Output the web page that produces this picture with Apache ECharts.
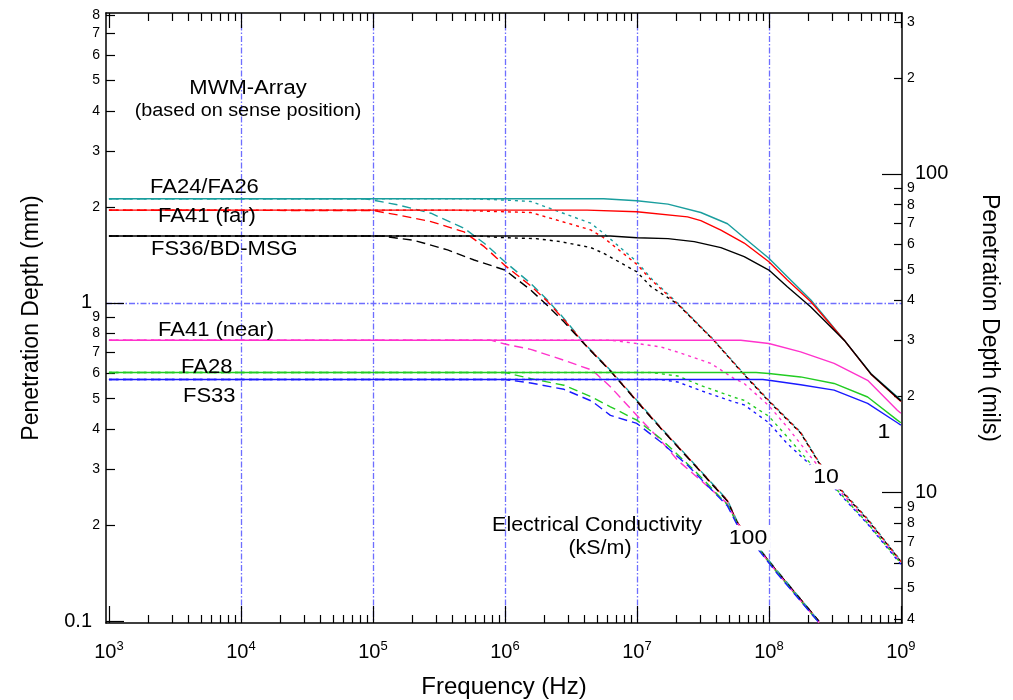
<!DOCTYPE html>
<html>
<head>
<meta charset="utf-8">
<script src="https://cdn.jsdelivr.net/npm/echarts@6/dist/echarts.min.js"></script>
<style>
    html, body {margin: 0; padding: 0; background: #fff;}
    #main {width: 1013px; height: 700px;}
</style>
</head>
<body>
<div id="main"></div>
<script>
// penetration depth (mm) vs frequency (Hz)
// suffix = conductivity in kS/m
let fa24_1 = [[1e3,2.12],[5.6e6,2.12],[1e7,2.09],[1.72e7,2.04],[3.05e7,1.92],[4.86e7,1.77],[6.5e7,1.60],[1e8,1.38],[1.38e8,1.207],[2.08e8,1.02],[3.72e8,0.763],[5.93e8,0.60],[1e9,0.495]];
let fa24_10 = [[1e3,2.12],[5.6e5,2.12],[1e6,2.10],[1.57e6,2.08],[4.47e6,1.777],[5.6e6,1.652],[1e7,1.345],[1.28e7,1.193],[2.04e7,0.996],[3.85e7,0.763],[6.13e7,0.614],[1e8,0.494],[1.74e8,0.393],[2.4e8,0.316],[3.3e8,0.267],[5.6e8,0.21],[1e9,0.155]];
let fa24_100 = [[1e3,2.12],[8.5e4,2.12],[1e5,2.10],[1.54e5,2.03],[2.75e5,1.91],[4.9e5,1.714],[6.97e5,1.538],[1e6,1.345],[1.57e6,1.15],[2.1e6,1.02],[2.8e6,0.893],[4e6,0.745],[4.75e6,0.693],[6.3e6,0.614],[1e7,0.494],[1.51e7,0.407],[2.72e7,0.312],[4.86e7,0.24],[5.78e7,0.205],[8.7e7,0.167],[1.16e8,0.144],[2.4e8,0.1]];

let fa41f_1 = [[1e3,1.953],[4.2e6,1.953],[1e7,1.93],[2.42e7,1.86],[3.05e7,1.81],[4.33e7,1.69],[6.5e7,1.54],[1e8,1.345],[1.38e8,1.178],[2.08e8,1.007],[3.72e8,0.763],[5.93e8,0.597],[1e9,0.49]];
let fa41f_10 = [[1e3,1.953],[4.2e5,1.953],[1e6,1.93],[1.57e6,1.92],[4.47e6,1.693],[5.6e6,1.60],[1e7,1.32],[1.28e7,1.18],[2.04e7,0.99],[3.85e7,0.76],[6.13e7,0.612],[1e8,0.492],[1.74e8,0.391],[2.4e8,0.315],[3.3e8,0.266],[5.6e8,0.209],[1e9,0.154]];
let fa41f_100 = [[1e3,1.953],[1e5,1.947],[1.54e5,1.887],[2.75e5,1.798],[4.9e5,1.67],[6.97e5,1.5],[1e6,1.31],[1.57e6,1.13],[2.1e6,1.01],[2.8e6,0.885],[4e6,0.743],[4.75e6,0.69],[6.3e6,0.612],[1e7,0.492],[1.51e7,0.405],[2.72e7,0.311],[4.86e7,0.239],[5.78e7,0.204],[8.7e7,0.166],[1.16e8,0.143],[2.4e8,0.1]];

let fs36_1 = [[1e3,1.62],[6.3e6,1.62],[1e7,1.60],[1.72e7,1.59],[2.72e7,1.555],[4.33e7,1.49],[6.5e7,1.395],[1e8,1.267],[1.38e8,1.123],[2.08e8,0.97],[3.72e8,0.763],[5.93e8,0.598],[1e9,0.492]];
let fs36_10 = [[1e3,1.62],[6.3e5,1.62],[1e6,1.60],[1.72e6,1.59],[2.65e6,1.555],[4.47e6,1.49],[5.6e6,1.43],[1e7,1.25],[1.28e7,1.123],[2.04e7,0.99],[3.85e7,0.76],[6.13e7,0.61],[1e8,0.49],[1.74e8,0.39],[2.4e8,0.314],[3.3e8,0.265],[5.6e8,0.208],[1e9,0.154]];
let fs36_100 = [[1e3,1.62],[1.15e5,1.62],[2.05e5,1.57],[3.68e5,1.465],[5.85e5,1.362],[1e6,1.267],[1.57e6,1.096],[2.1e6,0.98],[2.8e6,0.871],[4e6,0.742],[4.75e6,0.688],[6.3e6,0.61],[1e7,0.49],[1.51e7,0.404],[2.72e7,0.31],[4.86e7,0.238],[5.78e7,0.203],[8.7e7,0.166],[1.16e8,0.143],[2.4e8,0.1]];

let fa41n_1 = [[1e3,0.763],[6.13e7,0.763],[1e8,0.745],[1.74e8,0.701],[3.12e8,0.645],[5.6e8,0.571],[9.4e8,0.46],[1e9,0.45]];
let fa41n_10 = [[1e3,0.763],[6.3e6,0.763],[1e7,0.745],[1.51e7,0.727],[2.04e7,0.70],[3.63e7,0.645],[5.46e7,0.578],[6.5e7,0.558],[1e8,0.475],[1.38e8,0.407],[2.08e8,0.328],[2.4e8,0.305],[3.3e8,0.262],[5.6e8,0.205],[1e9,0.153]];
let fa41n_100 = [[1e3,0.763],[7.8e5,0.763],[1e6,0.742],[1.57e6,0.714],[2.8e6,0.66],[4.6e6,0.614],[6.3e6,0.545],[1e7,0.443],[1.51e7,0.37],[2.04e7,0.32],[3.05e7,0.277],[4.86e7,0.234],[5.78e7,0.203],[8.7e7,0.165],[1.16e8,0.142],[2.4e8,0.099]];

let fa28_1 = [[1e3,0.604],[8e7,0.604],[1e8,0.60],[1.74e8,0.585],[3.12e8,0.558],[5.6e8,0.506],[9.4e8,0.428],[1e9,0.42]];
let fa28_10 = [[1e3,0.604],[1.28e7,0.604],[2.04e7,0.589],[3.05e7,0.55],[5.46e7,0.505],[6.5e7,0.494],[1e8,0.44],[1.38e8,0.379],[2.08e8,0.312],[2.4e8,0.30],[3.3e8,0.258],[5.6e8,0.203],[1e9,0.152]];
let fa28_100 = [[1e3,0.604],[1e6,0.604],[1.57e6,0.578],[2.8e6,0.551],[4.6e6,0.505],[6.3e6,0.4715],[1e7,0.428],[1.51e7,0.375],[2.42e7,0.312],[3.05e7,0.284],[4.86e7,0.232],[5.78e7,0.202],[8.7e7,0.165],[1.16e8,0.142],[2.4e8,0.099]];

let fs33_1 = [[1e3,0.574],[9e7,0.574],[1e8,0.571],[1.74e8,0.553],[3.12e8,0.532],[5.6e8,0.483],[9.4e8,0.42],[1e9,0.413]];
let fs33_10 = [[1e3,0.574],[1.51e7,0.574],[2.04e7,0.564],[3.05e7,0.53],[5.46e7,0.488],[6.5e7,0.478],[1e8,0.42],[1.38e8,0.361],[2.08e8,0.309],[2.4e8,0.298],[3.3e8,0.256],[5.6e8,0.202],[1e9,0.151]];
let fs33_100 = [[1e3,0.574],[1e6,0.574],[1.57e6,0.56],[2.8e6,0.535],[4.6e6,0.49],[6.3e6,0.443],[1e7,0.418],[1.51e7,0.366],[2.42e7,0.309],[3.05e7,0.28],[4.86e7,0.23],[5.78e7,0.2],[8.7e7,0.164],[1.16e8,0.141],[2.4e8,0.099]];

// ticks
let xDecades = [1e3, 1e4, 1e5, 1e6, 1e7, 1e8, 1e9];
let gridX = [1e4, 1e5, 1e6, 1e7, 1e8];
let gridY = [1];
let mmMajor = [0.1, 1];
let milsMajor = [10, 100];
let mmToMils = 39.37;

function minors(fromExp, toExp) {
    let out = [];
    for (let e = fromExp; e < toExp; e++) {
        for (let k = 2; k <= 9; k++) out.push(k * Math.pow(10, e));
    }
    return out;
}
let xMinor = minors(3, 9);
let mmMinor = minors(-1, 1);
let milsMinor = minors(0, 3);

let yMin = 0.0988, yMax = 8.12;
let xMin = 950, xMax = 1.02e9;

let FONT = '"Liberation Sans", Arial, sans-serif';
let colors = {fa24: '#1a9e9e', fa41f: '#ff0000', fs36: '#000000', fa41n: '#ff33cc', fa28: '#22cc22', fs33: '#1a1aff'};
let dashes = {1: 'solid', 10: [3, 4], 100: [9, 5]};
let gridColor = 'rgb(110, 110, 255)';

function mk(name, data, color, sigma) {
    return {
        name: name + ' ' + sigma,
        type: 'line',
        data: data,
        xAxisIndex: 0,
        yAxisIndex: 0,
        showSymbol: false,
        symbol: 'none',
        silent: true,
        lineStyle: {color: color, width: 1.4, type: dashes[sigma]},
        z: 3
    };
}

function digit(v) {
    let e = Math.floor(Math.log10(v) + 1e-9);
    return String(Math.round(v / Math.pow(10, e)));
}

let myChart = echarts.init(document.getElementById('main'), null, {renderer: 'canvas'});

let axisLine = {show: true, lineStyle: {color: '#000', width: 1.5}};
let tickStyle = {color: '#000', width: 1.2};

function gridLine() {
    return {show: true, lineStyle: {color: [gridColor], opacity: 1, width: 1.3, type: [6, 2, 1.5, 2]}};
}

function txt(s, x, y, size, align, extra) {
    let style = {text: s, font: size + 'px ' + FONT, fill: '#000', align: align, verticalAlign: 'middle'};
    Object.assign(style, extra || {});
    return {type: 'text', x: x, y: y, z: 100, scaleX: 1.1, style: style};
}

let series = [
    mk('FA24/FA26', fa24_1, colors.fa24, 1),
    mk('FA24/FA26', fa24_10, colors.fa24, 10),
    mk('FA24/FA26', fa24_100, colors.fa24, 100),
    mk('FA41 (far)', fa41f_1, colors.fa41f, 1),
    mk('FA41 (far)', fa41f_10, colors.fa41f, 10),
    mk('FA41 (far)', fa41f_100, colors.fa41f, 100),
    mk('FS36/BD-MSG', fs36_1, colors.fs36, 1),
    mk('FS36/BD-MSG', fs36_10, colors.fs36, 10),
    mk('FS36/BD-MSG', fs36_100, colors.fs36, 100),
    mk('FA41 (near)', fa41n_1, colors.fa41n, 1),
    mk('FA41 (near)', fa41n_10, colors.fa41n, 10),
    mk('FA41 (near)', fa41n_100, colors.fa41n, 100),
    mk('FA28', fa28_1, colors.fa28, 1),
    mk('FA28', fa28_10, colors.fa28, 10),
    mk('FA28', fa28_100, colors.fa28, 100),
    mk('FS33', fs33_1, colors.fs33, 1),
    mk('FS33', fs33_10, colors.fs33, 10),
    mk('FS33', fs33_100, colors.fs33, 100)
];

let option = {
    backgroundColor: '#fff',
    animation: false,
    grid: {left: 106, right: 111, top: 13, bottom: 77, outerBoundsMode: 'none', containLabel: false},
    xAxis: [
        {
            type: 'log', min: xMin, max: xMax, position: 'bottom',
            axisLine: axisLine,
            axisTick: {inside: true, length: 17, customValues: xDecades, lineStyle: tickStyle},
            axisLabel: {
                customValues: xDecades, margin: 17, color: '#000', fontFamily: FONT, fontSize: 20,
                formatter: v => '10{s|' + Math.round(Math.log10(v)) + '}',
                rich: {s: {fontSize: 13, fontFamily: FONT, color: '#000', verticalAlign: 'top', padding: [0, 0, 12, 0]}}
            },
            splitLine: {show: false},
            name: 'Frequency (Hz)', nameLocation: 'middle', nameGap: 52,
            nameTextStyle: {color: '#000', fontFamily: FONT, fontSize: 24}
        },
        {
            type: 'log', min: xMin, max: xMax, position: 'bottom',
            axisLine: {show: false},
            axisTick: {inside: true, length: 8, customValues: xMinor, lineStyle: tickStyle},
            axisLabel: {show: false}, splitLine: {show: false}
        },
        {
            type: 'log', min: xMin, max: xMax, position: 'top',
            axisLine: axisLine,
            axisTick: {inside: true, length: 15, customValues: xDecades, lineStyle: tickStyle},
            axisLabel: {show: false}, splitLine: {show: false}
        },
        {
            type: 'log', min: xMin, max: xMax, position: 'top',
            axisLine: {show: false},
            axisTick: {inside: true, length: 8, customValues: xMinor, lineStyle: tickStyle},
            axisLabel: {show: false}, splitLine: {show: false}
        },
        {
            // vertical grid lines only
            type: 'log', min: xMin, max: xMax, position: 'bottom',
            axisLine: {show: false}, axisLabel: {show: false},
            axisTick: {show: false, customValues: gridX},
            splitLine: gridLine()
        }
    ],
    yAxis: [
        {
            type: 'log', min: yMin, max: yMax, position: 'left',
            axisLine: axisLine,
            axisTick: {inside: true, length: 18, customValues: mmMajor, lineStyle: tickStyle},
            axisLabel: {customValues: mmMajor, margin: 14, color: '#000', fontFamily: FONT, fontSize: 20,
                formatter: v => String(v)},
            splitLine: {show: false},
            name: 'Penetration Depth (mm)', nameLocation: 'middle', nameGap: 63,
            nameTextStyle: {color: '#000', fontFamily: FONT, fontSize: 23}
        },
        {
            type: 'log', min: yMin, max: yMax, position: 'left',
            axisLine: {show: false},
            axisTick: {inside: true, length: 9, customValues: mmMinor, lineStyle: tickStyle},
            axisLabel: {customValues: mmMinor, margin: 6, color: '#000', fontFamily: FONT, fontSize: 14,
                formatter: v => digit(v)},
            splitLine: {show: false}
        },
        {
            type: 'log', min: yMin * mmToMils, max: yMax * mmToMils, position: 'right',
            axisLine: axisLine,
            axisTick: {inside: true, length: 20, customValues: milsMajor, lineStyle: tickStyle},
            axisLabel: {customValues: milsMajor, margin: 13, color: '#000', fontFamily: FONT, fontSize: 20,
                formatter: v => String(v)},
            splitLine: {show: false},
            name: 'Penetration Depth (mils)', nameLocation: 'middle', nameGap: 76, nameRotate: -90,
            nameTextStyle: {color: '#000', fontFamily: FONT, fontSize: 23}
        },
        {
            type: 'log', min: yMin * mmToMils, max: yMax * mmToMils, position: 'right',
            axisLine: {show: false},
            axisTick: {inside: true, length: 8, customValues: milsMinor, lineStyle: tickStyle},
            axisLabel: {customValues: milsMinor, margin: 5, color: '#000', fontFamily: FONT, fontSize: 14,
                formatter: v => digit(v)},
            splitLine: {show: false}
        },
        {
            // horizontal grid line at 1 mm
            type: 'log', min: yMin, max: yMax, position: 'left',
            axisLine: {show: false}, axisLabel: {show: false},
            axisTick: {show: false, customValues: gridY},
            splitLine: gridLine()
        }
    ],
    graphic: [
        txt('MWM-Array', 248, 88, 20, 'center'),
        txt('(based on sense position)', 248, 111, 18, 'center'),
        txt('FA24/FA26', 150, 187, 20, 'left'),
        txt('FA41 (far)', 158, 216, 20, 'left'),
        txt('FS36/BD-MSG', 151, 249, 20, 'left'),
        txt('FA41 (near)', 158, 330, 20, 'left'),
        txt('FA28', 181, 367, 20, 'left'),
        txt('FS33', 183, 396, 20, 'left'),
        txt('1', 884, 432, 21, 'center'),
        txt('10', 826, 477, 21, 'center', {backgroundColor: '#fff', padding: [2, 3]}),
        txt('100', 748, 538, 21, 'center', {backgroundColor: '#fff', padding: [2, 3]}),
        txt('Electrical Conductivity', 597, 526, 19.5, 'center'),
        txt('(kS/m)', 600, 549, 19.5, 'center')
    ],
    series: series
};

myChart.setOption(option);
</script>
</body>
</html>
